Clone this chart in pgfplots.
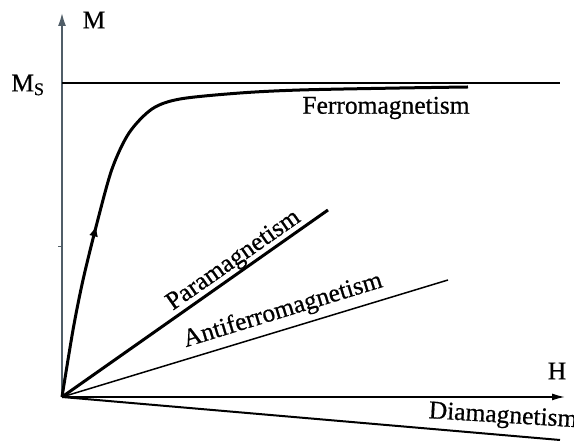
\documentclass[border=0pt]{standalone}
\usepackage{fontspec}
\setmainfont{Liberation Serif}[FakeBold=0.6]
\usepackage{pgfplots}
\pgfplotsset{compat=1.18}
\usetikzlibrary{arrows.meta,decorations.markings}
\definecolor{axisgray}{RGB}{80,94,104}
\newcommand{\lbl}{\fontsize{25.5}{30}\selectfont}
\begin{document}
\begin{tikzpicture}
\begin{axis}[
  x=1pt, y=1pt, scale only axis,
  xmin=-62, xmax=512, ymin=-44, ymax=397,
  axis lines=none, clip=false]
% axes
\addplot[axisgray, line width=2.4pt, -{Latex[length=14pt,width=8pt]}] coordinates {(0,0) (0,385)};
\addplot[black, line width=1.5pt, -{Latex[length=13pt,width=7pt]}] coordinates {(0,0) (503,0)};
\draw[axisgray, line width=1pt] (axis cs:-4,150) -- (axis cs:0,150);
% saturation level
\addplot[black, line width=1.2pt] coordinates {(0,314) (498,314)};
% ferromagnetic magnetisation curve
\addplot[black, line width=3pt, smooth, tension=0.5,
  postaction={decorate},
  decoration={markings, mark=at position 0.28 with {\arrow{Latex[length=11pt,width=9pt]}}}]
  coordinates {(0,0) (11,67) (21,117) (35,174) (50,228) (67,264) (90,288) (118,298) (178,304) (238,307) (338,309) (406,310)};
% paramagnetic, antiferromagnetic, diamagnetic responses
\addplot[black, line width=3pt] coordinates {(0,0) (266,187)};
\addplot[black, line width=1.5pt] coordinates {(0,0) (386,117)};
\addplot[black, line width=2pt] coordinates {(0,0) (498,-43)};
% labels
\node[font=\lbl] at (axis cs:32,377) {M};
\node[font=\lbl, anchor=east] at (axis cs:-14,312) {M\textsubscript{S}};
\node[font=\lbl] at (axis cs:495,26) {H};
\node[font=\lbl] at (axis cs:324,289) {Ferromagnetism};
\node[font=\lbl, rotate=35] at (axis cs:172,136) {Paramagnetism};
\node[font=\lbl, rotate=17] at (axis cs:221,86) {Antiferromagnetism};
\node[font=\lbl, rotate=-3.5] at (axis cs:441,-20) {Diamagnetism};
\end{axis}
\pgfresetboundingbox
\path[use as bounding box] (0,0) rectangle (574pt,441pt);
\end{tikzpicture}
\end{document}
